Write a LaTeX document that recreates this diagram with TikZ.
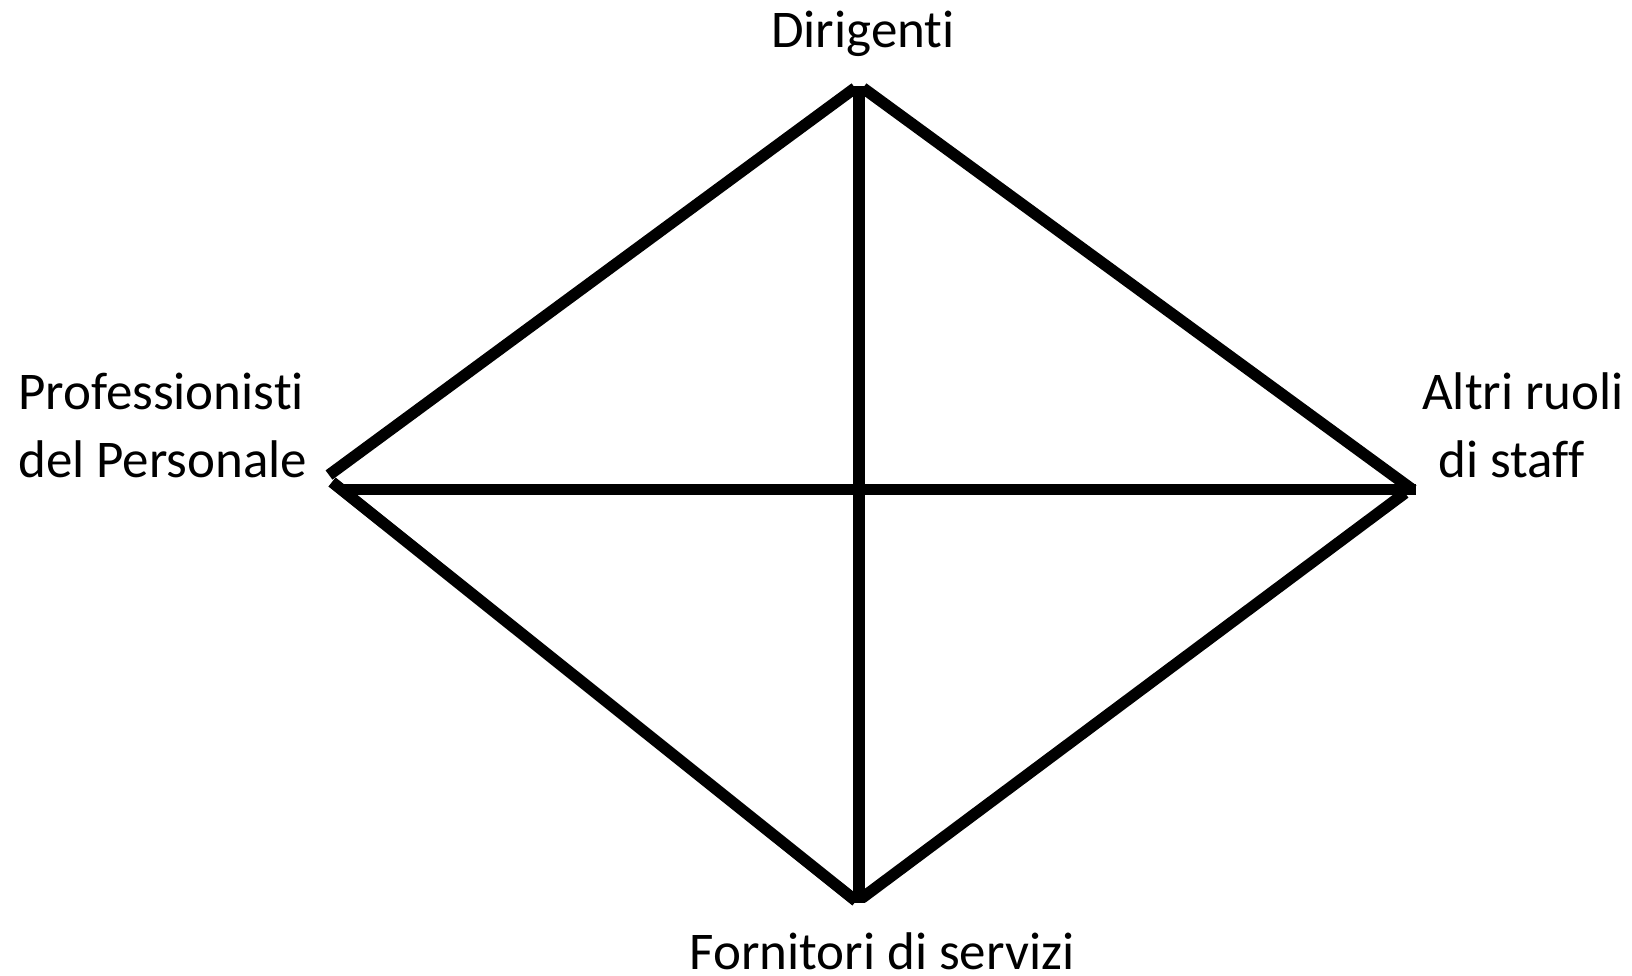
\documentclass[tikz,border=0pt]{standalone}
\usepackage{fontspec}
\setmainfont[Ligatures={NoCommon}]{Carlito}
\begin{document}
\begin{tikzpicture}[x=1pt,y=-1pt,
  edge/.style={line width=11.5pt,line cap=butt,black},
  lbl/.style={font=\fontsize{53}{64}\selectfont,inner sep=0pt,anchor=base}]
\useasboundingbox (0,0) rectangle (1632,975);
% vertices
\coordinate (tL) at (855,88);
\coordinate (tR) at (863,88);
\coordinate (tV) at (859,86);
\coordinate (lU) at (329,475);
\coordinate (lD) at (332,482);
\coordinate (lH) at (343,489.5);
\coordinate (rU) at (1413,490);
\coordinate (rD) at (1405,493);
\coordinate (rH) at (1416,489.5);
\coordinate (bL) at (856,901);
\coordinate (bR) at (862,898);
\coordinate (bV) at (859,903);
% edges
\draw[edge] (tL) -- (lU);
\draw[edge] (tR) -- (rU);
\draw[edge] (lD) -- (bL);
\draw[edge] (rD) -- (bR);
\draw[edge] (lH) -- (rH);
\draw[edge] (tV) -- (bV);
% labels
\node[lbl] (dir) at (863,47) {Dirigenti};
\node[lbl,anchor=base west] (prof1) at (18,409) {Professionisti};
\node[lbl,anchor=base west] (prof2) at (18,477) {del Personale};
\node[lbl,anchor=base west] (alt1) at (1422,409) {Altri ruoli};
\node[lbl,anchor=base west] (alt2) at (1438,477) {di staff};
\node[lbl] (forn) at (882,969) {Fornitori di servizi};
\end{tikzpicture}
\end{document}
